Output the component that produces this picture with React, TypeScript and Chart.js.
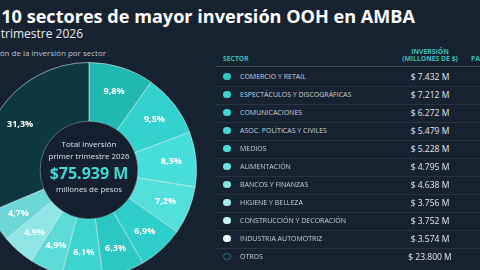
import React, { useEffect, useRef } from "react";
import { Chart, registerables } from "chart.js";

Chart.register(...registerables);

// Sector investment, Q1 2026 (millions of pesos)
const sectors = [
  "COMERCIO Y RETAIL",
  "ESPECTÁCULOS Y DISCOGRÁFICAS",
  "COMUNICACIONES",
  "ASOC. POLÍTICAS Y CIVILES",
  "MEDIOS",
  "ALIMENTACIÓN",
  "BANCOS Y FINANZAS",
  "HIGIENE Y BELLEZA",
  "CONSTRUCCIÓN Y DECORACIÓN",
  "INDUSTRIA AUTOMOTRIZ",
  "OTROS",
];
const investment = [7432, 7212, 6272, 5479, 5228, 4795, 4638, 3756, 3752, 3574, 23800];
const sliceColors = [
  "#21b8b2", "#34d2ce", "#47ddda", "#53e0dd", "#2ecfca", "#2bc7c2",
  "#3dd3cf", "#5cdad8", "#90e6e4", "#6dd7d6", "#0d3840",
];
const dotColors = [
  "#2ec9c2", "#39d4ce", "#3fd7d2", "#46dad6", "#4cdcd8", "#6ee2df",
  "#82e6e3", "#a6eeec", "#c9f5f4", "#ecfbfb", "transparent",
];
const totalLabel = "$75.939 M";

const total = investment.reduce((a, b) => a + b, 0);
const pctLabels = investment.map((v) => ((v / total) * 100).toFixed(1).replace(".", ",") + "%");
const fmtMillions = (v: number) => "$ " + v.toLocaleString("de-DE") + " M";

const FONT = "'Open Sans', sans-serif";
const BG = "#172231";

const ringPlugin = {
  id: "ringDecor",
  afterDatasetsDraw(chart: any) {
    const ctx = chart.ctx;
    const meta = chart.getDatasetMeta(0);
    if (!meta.data.length) return;
    const first = meta.data[0];
    const { x, y, innerRadius } = first.getProps(["x", "y", "innerRadius"], true);
    // inner disc
    ctx.save();
    ctx.beginPath();
    ctx.arc(x, y, innerRadius + 0.5, 0, Math.PI * 2);
    ctx.fillStyle = "#142030";
    ctx.fill();
    ctx.lineWidth = 1;
    ctx.strokeStyle = "rgba(170, 220, 225, 0.35)";
    ctx.stroke();
    // percentage labels
    ctx.fillStyle = "#ffffff";
    ctx.font = `700 9px ${FONT}`;
    ctx.textAlign = "center";
    ctx.textBaseline = "middle";
    meta.data.forEach((arc: any, i: number) => {
      const p = arc.getProps(["startAngle", "endAngle", "innerRadius", "outerRadius"], true);
      const mid = (p.startAngle + p.endAngle) / 2;
      const r = p.innerRadius + (p.outerRadius - p.innerRadius) * 0.58;
      ctx.fillText(pctLabels[i], x + Math.cos(mid) * r, y + Math.sin(mid) * r);
    });
    ctx.restore();
  },
};

function Donut() {
  const ref = useRef<HTMLCanvasElement | null>(null);
  useEffect(() => {
    if (!ref.current) return;
    const chart = new Chart(ref.current, {
      type: "doughnut",
      data: {
        labels: sectors,
        datasets: [
          {
            data: investment,
            backgroundColor: sliceColors,
            borderColor: "rgba(225, 250, 250, 0.55)",
            borderWidth: 1,
          },
        ],
      },
      options: {
        responsive: false,
        animation: false,
        cutout: "45%",
        layout: { padding: 0 },
        plugins: { legend: { display: false }, tooltip: { enabled: false } },
      },
      plugins: [ringPlugin],
    });
    return () => chart.destroy();
  }, []);
  return (
    <canvas
      ref={ref}
      width={216}
      height={216}
      style={{ position: "absolute", left: -19, top: 62, width: 216, height: 216 }}
    />
  );
}

const abs = (s: React.CSSProperties): React.CSSProperties => ({ position: "absolute", whiteSpace: "nowrap", ...s });

export default function App() {
  const rowY0 = 76.7;
  const rowStep = 18;
  return (
    <div
      style={{
        position: "fixed",
        left: 0,
        top: 0,
        width: 480,
        height: 270,
        overflow: "hidden",
        background: BG,
        fontFamily: FONT,
        color: "#ffffff",
      }}
    >
      <div style={abs({ right: 65, top: 6.6, fontSize: 18.1, lineHeight: "18px", fontWeight: 700 })}>
        Top 10 sectores de mayor inversión OOH en AMBA
      </div>
      <div style={abs({ right: 397, top: 28, fontSize: 12, lineHeight: "12px", color: "#e6ebf0" })}>
        Primer trimestre 2026
      </div>
      <div style={abs({ right: 374, top: 49.3, fontSize: 8, lineHeight: "8px", color: "#b9c4ce" })}>
        Distribución de la inversión por sector
      </div>

      <Donut />

      <div style={abs({ left: 89, top: 137, transform: "translateX(-50%)", textAlign: "center", color: "#d8e0e7" })}>
        <div style={{ fontSize: 8, lineHeight: "13px" }}>Total inversión</div>
        <div style={{ fontSize: 7.9, lineHeight: "13px" }}>primer trimestre 2026</div>
        <div style={{ fontSize: 16, lineHeight: "20px", fontWeight: 700, color: "#3fd9d3" }}>{totalLabel}</div>
        <div style={{ fontSize: 7.9, lineHeight: "13px" }}>millones de pesos</div>
      </div>

      {/* table header */}
      <div style={abs({ left: 223, top: 55, fontSize: 6.8, lineHeight: "7px", fontWeight: 700, color: "#39bdb8" })}>
        SECTOR
      </div>
      <div
        style={abs({
          left: 430,
          top: 47.5,
          transform: "translateX(-50%)",
          textAlign: "center",
          fontSize: 6.8,
          lineHeight: "7.5px",
          fontWeight: 700,
          color: "#39bdb8",
        })}
      >
        <div>INVERSIÓN</div>
        <div>(MILLONES DE $)</div>
      </div>
      <div style={abs({ left: 471, top: 55, fontSize: 6.8, lineHeight: "7px", fontWeight: 700, color: "#39bdb8" })}>
        PARTICIPACIÓN
      </div>
      <div style={abs({ left: 216, top: 65.5, width: 264, height: 1.5, background: "#3a4857" })} />

      {sectors.map((name, i) => {
        const yc = rowY0 + i * rowStep;
        const last = i === sectors.length - 1;
        return (
          <React.Fragment key={name}>
            <div
              style={abs({
                left: 227 - 3.7,
                top: yc - 3.7,
                width: 7.4,
                height: 7.4,
                boxSizing: "border-box",
                borderRadius: "50%",
                background: dotColors[i],
                border: last ? "1.2px solid #2f7475" : "none",
              })}
            />
            <div style={abs({ left: 240, top: yc - 6, height: 12, lineHeight: "12px", fontSize: 7, color: "#c7d1db" })}>
              {name}
            </div>
            <div
              style={abs({
                left: 430,
                top: yc - 6,
                height: 12,
                lineHeight: "12px",
                transform: "translateX(-50%)",
                fontSize: 8.5,
                color: "#e3e8ee",
              })}
            >
              {fmtMillions(investment[i])}
            </div>
            {!last && (
              <div style={abs({ left: 216, top: yc + 9, width: 264, height: 1, background: "rgba(255,255,255,0.08)" })} />
            )}
          </React.Fragment>
        );
      })}
    </div>
  );
}
